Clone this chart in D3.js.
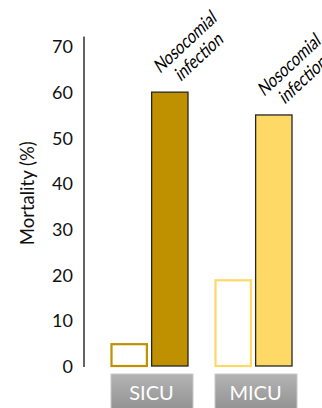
<!DOCTYPE html>
<html>
<head>
<meta charset="utf-8">
<script src="https://cdn.jsdelivr.net/npm/d3@7/dist/d3.min.js"></script>
<style>
  html, body { margin: 0; padding: 0; background: #fff; }
  svg { display: block; }
  text { font-family: Lato, "Open Sans", sans-serif; }
</style>
</head>
<body>
<svg id="chart" width="322" height="408"></svg>
<script>
// Mortality (%) by ICU type, without and with nosocomial infection
const units = ["SICU", "MICU"];
const withoutInfection = [5, 19];
const withInfection = [60, 55];
const yTicks = [0, 10, 20, 30, 40, 50, 60, 70];
const barLabel = ["Nosocomial", "infection"];

const outlineColors = ["#BF9000", "#FFD966"];
const fillColors = ["#BF9000", "#FFD966"];

const svg = d3.select("#chart");

const y = d3.scaleLinear().domain([0, 70]).range([366, 46.5]);
const xGroup = d3.scalePoint().domain(units).range([149.5, 253.5]);
const xInner = d3.scaleBand().domain(["without", "with"]).range([-39, 39]).paddingInner(0.08);

// y axis
const axis = d3.axisLeft(y).tickValues(yTicks).tickSize(0).tickPadding(11);
const gAxis = svg.append("g").attr("transform", "translate(84,0)").call(axis);
gAxis.select(".domain").remove();
gAxis.selectAll("text")
  .attr("font-family", "Lato, sans-serif")
  .attr("font-size", 18)
  .attr("fill", "#111")
  .attr("dy", "0.36em");
gAxis.append("line")
  .attr("x1", 0).attr("x2", 0)
  .attr("y1", y(70) - 10).attr("y2", y(0) + 1)
  .attr("stroke", "#111").attr("stroke-width", 1.3);

svg.append("text")
  .attr("transform", `translate(34,${(y(0) + y(70)) / 2 - 13}) rotate(-90)`)
  .attr("text-anchor", "middle")
  .attr("font-size", 18.5)
  .attr("fill", "#111")
  .text("Mortality (%)");

// bars
const groups = svg.selectAll("g.unit")
  .data(units.map((u, i) => ({ unit: u, i, base: withoutInfection[i], inf: withInfection[i] })))
  .join("g")
  .attr("class", "unit")
  .attr("transform", d => `translate(${xGroup(d.unit)},0)`);

// outlined bars: no infection
groups.append("rect")
  .attr("x", xInner("without") + 1)
  .attr("width", xInner.bandwidth() - 2)
  .attr("y", d => y(d.base) + 1)
  .attr("height", d => y(0) - y(d.base) - 1)
  .attr("fill", "#fff")
  .attr("stroke", d => outlineColors[d.i])
  .attr("stroke-width", 2.2);

// filled bars: nosocomial infection
groups.append("rect")
  .attr("x", xInner("with") + 0.5)
  .attr("width", xInner.bandwidth() - 1)
  .attr("y", d => y(d.inf))
  .attr("height", d => y(0) - y(d.inf))
  .attr("fill", d => fillColors[d.i])
  .attr("stroke", "#262626")
  .attr("stroke-width", 1.3);

// slanted, condensed two-line labels above the filled bars
const skewDeg = -12, lineGap = 20, squeeze = 0.83;
const lineShift = Math.tan(-skewDeg * Math.PI / 180) * lineGap / squeeze;
groups.each(function (d) {
  const cx = xInner("with") + xInner.bandwidth() / 2;
  const t = d3.select(this).append("text")
    .attr("transform", `translate(${cx + 19},${y(d.inf) - 45}) rotate(-43) skewX(${skewDeg}) scale(${squeeze},1)`)
    .attr("text-anchor", "middle")
    .attr("font-size", 18.5)
    .attr("fill", "#000");
  barLabel.forEach((s, k) => {
    t.append("tspan").attr("x", k === 0 ? 0 : lineShift).attr("dy", k === 0 ? 0 : lineGap).text(s);
  });
});

// category boxes
const defs = svg.append("defs");
const grad = defs.append("linearGradient")
  .attr("id", "boxGrad").attr("x1", 0).attr("y1", 0).attr("x2", 0).attr("y2", 1);
grad.append("stop").attr("offset", "0%").attr("stop-color", "#b4b4b4");
grad.append("stop").attr("offset", "100%").attr("stop-color", "#8e8e8e");

groups.append("rect")
  .attr("x", -39.5 + 1)
  .attr("y", y(0) + 8)
  .attr("width", 82)
  .attr("height", 40)
  .attr("fill", "url(#boxGrad)")
  .attr("stroke", "#c8c8c8")
  .attr("stroke-width", 1);

groups.append("text")
  .attr("x", 2)
  .attr("y", y(0) + 34)
  .attr("text-anchor", "middle")
  .attr("font-size", 20)
  .attr("fill", "#fff")
  .text(d => d.unit);
</script>
</body>
</html>
